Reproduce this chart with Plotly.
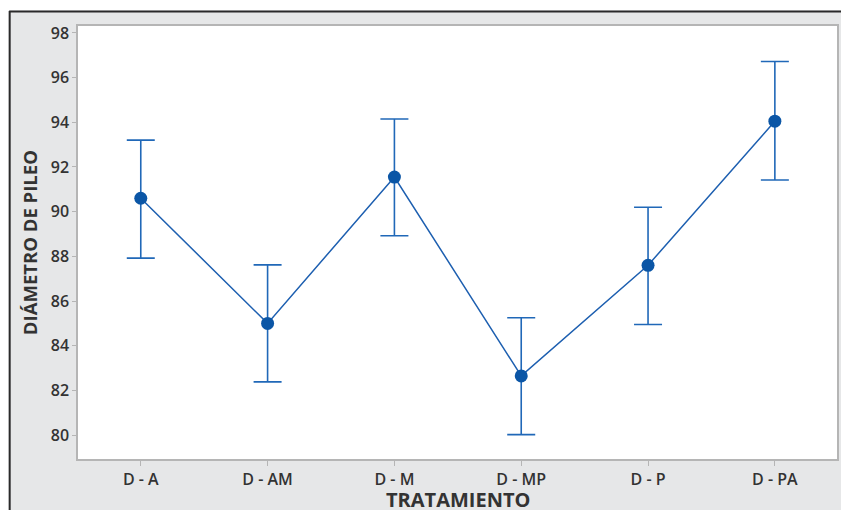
import plotly.graph_objects as go

# Treatment groups and mean pileus diameter with interval limits
tratamientos = ["D - A", "D - AM", "D - M", "D - MP", "D - P", "D - PA"]
media = [90.6, 85.0, 91.55, 82.65, 87.6, 94.05]
limite_sup = [93.2, 87.62, 94.15, 85.25, 90.2, 96.72]
limite_inf = [87.92, 82.38, 88.92, 80.02, 84.95, 91.42]

err_plus = [s - m for s, m in zip(limite_sup, media)]
err_minus = [m - i for m, i in zip(media, limite_inf)]

W, H = 841, 510
ML, MR, MT, MB = 78, 2, 26, 51
PW, PH = W - ML - MR, H - MT - MB


def px_x(px):
    return (px - ML) / PW


def px_y(py):
    return (H - MB - py) / PH


blue = "#0b56a6"
tick_font = dict(family="Open Sans", size=16, color="#333333", weight=600)

fig = go.Figure()
fig.add_trace(go.Scatter(
    x=list(range(len(tratamientos))),
    y=media,
    mode="lines+markers",
    line=dict(color="#1d5fb0", width=1.5),
    marker=dict(color=blue, size=13),
    error_y=dict(type="data", symmetric=False, array=err_plus, arrayminus=err_minus,
                 color="#2068b8", thickness=1.6, width=14),
    showlegend=False,
))

axis_line = "#b5b5b5"
fig.update_xaxes(
    range=[-0.495, 5.49], tickvals=list(range(len(tratamientos))), ticktext=tratamientos,
    showgrid=False, zeroline=False, showline=True, linecolor=axis_line, linewidth=1.5,
    mirror=True, ticks="outside", ticklen=5, tickcolor=axis_line, tickfont=tick_font,
)
fig.update_yaxes(
    range=[78.93, 98.31], tickvals=[80, 82, 84, 86, 88, 90, 92, 94, 96, 98],
    showgrid=False, zeroline=False, showline=True, linecolor=axis_line, linewidth=1.5,
    mirror=True, ticks="outside", ticklen=4, tickcolor=axis_line, tickfont=tick_font,
)

fig.add_annotation(text="DIÁMETRO DE PILEO", textangle=-90, x=px_x(30), y=px_y(243),
                   xref="paper", yref="paper", showarrow=False,
                   font=dict(family="Open Sans", size=18.5, color="#333333", weight=700),
                   xanchor="center", yanchor="middle")
fig.add_annotation(text="TRATAMIENTO", x=px_x(459), y=px_y(500),
                   xref="paper", yref="paper", showarrow=False,
                   font=dict(family="Open Sans", size=20, color="#333333", weight=700),
                   xanchor="center", yanchor="middle")

# white margin outside the framed panel, and the dark frame edges
fig.add_shape(type="rect", xref="paper", yref="paper", x0=px_x(-5), x1=px_x(8.5),
              y0=px_y(520), y1=px_y(-5), fillcolor="white", line_width=0)
fig.add_shape(type="rect", xref="paper", yref="paper", x0=px_x(-5), x1=px_x(850),
              y0=px_y(10.5), y1=px_y(-5), fillcolor="white", line_width=0)
fig.add_shape(type="line", xref="paper", yref="paper", x0=px_x(9.5), x1=px_x(9.5),
              y0=px_y(11), y1=px_y(520), line=dict(color="#2a2a2a", width=2))
fig.add_shape(type="line", xref="paper", yref="paper", x0=px_x(9), x1=px_x(850),
              y0=px_y(11.5), y1=px_y(11.5), line=dict(color="#2a2a2a", width=2))

fig.update_layout(
    width=W, height=H,
    margin=dict(l=ML, r=MR, t=MT, b=MB),
    paper_bgcolor="#e6e7e8", plot_bgcolor="white",
)

fig.write_html("out.html")
